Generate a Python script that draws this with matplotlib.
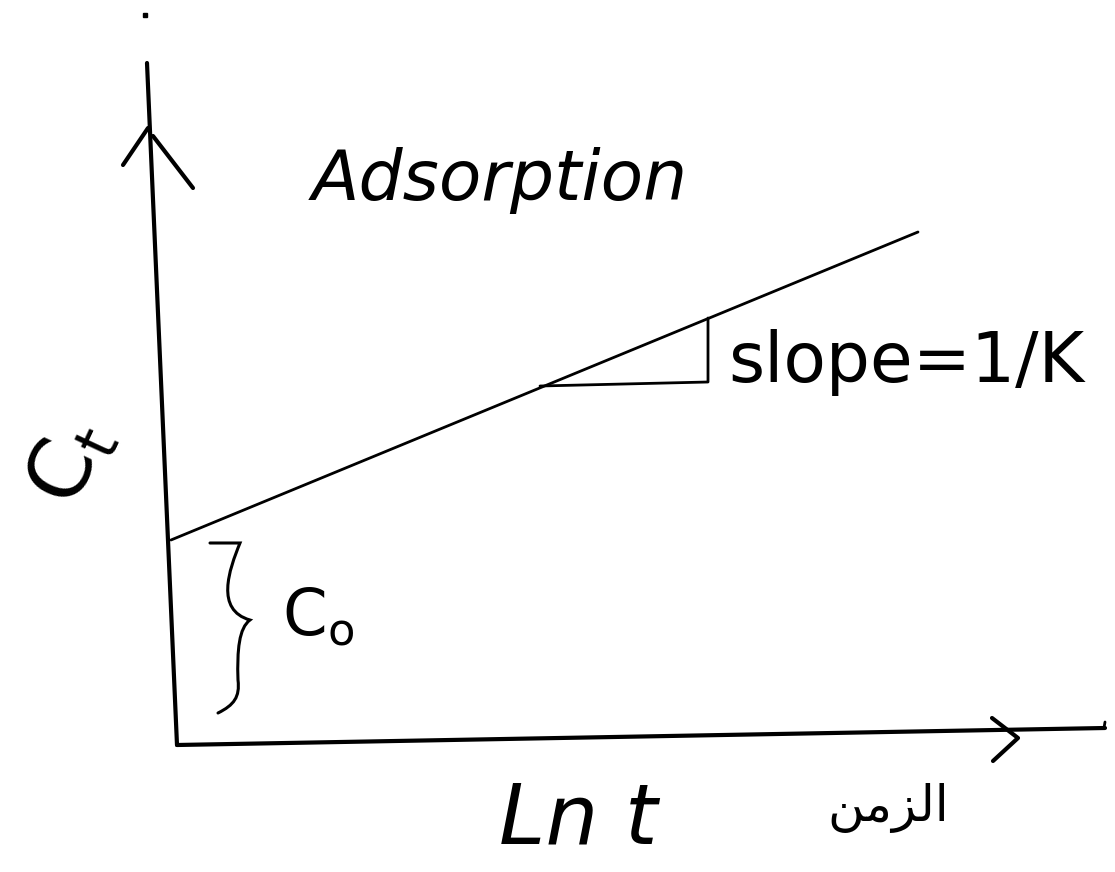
import numpy as np
import matplotlib
matplotlib.use("Agg")
import matplotlib.pyplot as plt
from matplotlib.path import Path
from matplotlib.patches import PathPatch

# Sketch of adsorption: Ct against ln t, a straight line with intercept C0 and slope 1/K
ln_t = [-6, 741]          # ends of the drawn line along the ln t axis
ct = [205, 513]           # Ct at those ends
c0 = 205                  # intercept on the Ct axis

# slope triangle under the line (run then rise)
tri_x = [363, 531, 531]
tri_y = [359, 363, 427]

title_text = "Adsorption"
slope_text = "slope=1/K"
x_label = "Ln t"
y_label = r"$\mathregular{C_t}$"
c0_label = r"$\mathregular{C_o}$"
# "الزمن" (time), written in presentation forms in visual order so it renders joined
arabic_label = "\uFEE6\uFEE3\uFEB0\uFEDF\uFE8D"

fig = plt.figure(figsize=(11.15, 8.72), dpi=100)
ax = fig.add_axes([0, 0, 1, 1])
ax.set_xlim(-177, 938)
ax.set_ylim(-127, 745)
ax.axis("off")

lw_axis = 3.0
lw_line = 2.0

# hand-drawn axes, slightly off-square
ax.plot([0, -30], [0, 682], color="black", lw=lw_axis, solid_capstyle="round")
ax.plot([0, 928], [0, 17], color="black", lw=lw_axis, solid_capstyle="round")
ax.plot([927, 928], [17, 23], color="black", lw=2, solid_capstyle="round")

# arrow heads
ax.plot([-54, -29], [580, 617], color="black", lw=lw_axis, solid_capstyle="round")
ax.plot([-24, 16], [609, 557], color="black", lw=lw_axis, solid_capstyle="round")
ax.plot([815, 841, 816], [27, 7, -16], color="black", lw=lw_axis,
        solid_capstyle="round", solid_joinstyle="round")

# the adsorption line
ax.plot(ln_t, ct, color="black", lw=lw_line, solid_capstyle="round")

# slope triangle
ax.plot(tri_x, tri_y, color="black", lw=lw_line, solid_capstyle="round",
        solid_joinstyle="round")

# curly brace marking the intercept C0
verts = [(33, c0 - 3), (63, c0 - 3),
         (52, c0 - 30), (38, c0 - 70), (73, c0 - 80),
         (62, c0 - 88), (60, c0 - 110), (61, c0 - 140),
         (63, 48), (57, 40), (41, 32)]
codes = [Path.MOVETO, Path.LINETO,
         Path.CURVE4, Path.CURVE4, Path.CURVE4,
         Path.CURVE4, Path.CURVE4, Path.CURVE4,
         Path.CURVE4, Path.CURVE4, Path.CURVE4]
ax.add_patch(PathPatch(Path(verts, codes), fill=False, lw=2.2, capstyle="round"))

# stray dot above the Ct axis
ax.plot([-32], [730], marker="s", ms=3, color="black")

ax.text(323, 565, title_text, fontsize=50, ha="center", va="center",
        family="DejaVu Sans", style="italic")
ax.text(551, 383, slope_text, fontsize=50, ha="left", va="center",
        family="DejaVu Sans")
ax.text(105, 128, c0_label, fontsize=46, ha="left", va="center",
        family="DejaVu Sans")
ax.text(-107, 282, y_label, fontsize=60, ha="center", va="center",
        rotation=65, family="DejaVu Sans")
ax.text(401, -75, x_label, fontsize=60, ha="center", va="center",
        family="DejaVu Sans", style="italic")
ax.text(711, -63, arabic_label, fontsize=36, ha="center", va="center",
        family="DejaVu Sans")

fig.savefig("out.png", dpi=100)
